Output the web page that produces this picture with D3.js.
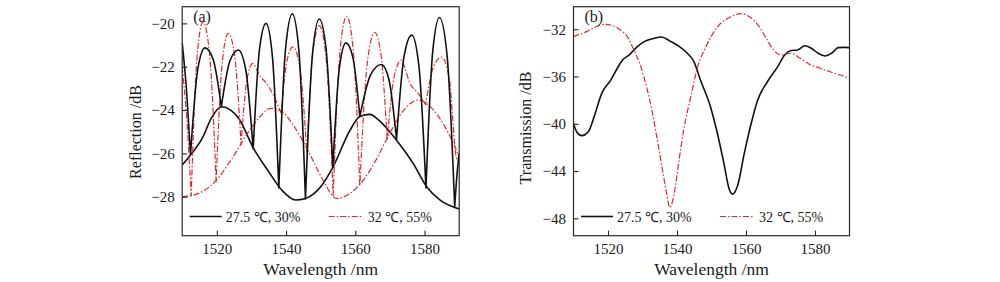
<!DOCTYPE html>
<html>
<head>
<meta charset="utf-8">
<script src="https://cdn.jsdelivr.net/npm/d3@7"></script>
<style>
  body { margin: 0; background: #fff; }
  svg { display: block; font-family: "Liberation Serif", "Times New Roman", serif; }
</style>
</head>
<body>
<div id="chart"></div>
<script>
// ---- data ----
const wavelengthTicks = [1520, 1540, 1560, 1580];
const reflTicks = [-28, -26, -24, -22, -20];
const transTicks = [-48, -44, -40, -36, -32];
const legendLabels = ["27.5 \u2103, 30%", "32 \u2103, 55%"];

// (a) reflection, 27.5 C / 30% : fringes and their lower envelope
const reflBlackFringe = [
  [1510, -20.9], [1511.3, -23.2], [1512.4, -26.05],
  [1514.5, -22.11], [1516.6, -21.13], [1518.95, -21.67], [1521.3, -23.85],
  [1523.75, -21.75], [1526.2, -21.23], [1528.35, -22.14], [1530.5, -25.8],
  [1532.35, -21.16], [1534.2, -20.0], [1536.05, -21.52], [1537.9, -27.6],
  [1539.85, -21.17], [1541.8, -19.56], [1543.7, -21.27], [1545.6, -28.1],
  [1547.6, -21.46], [1549.6, -19.8], [1551.55, -21.17], [1553.5, -26.65],
  [1555.4, -22.05], [1557.3, -20.9], [1559.3, -21.58], [1561.3, -24.3],
  [1564.4, -22.38], [1567.5, -21.9], [1569.7, -22.59], [1571.9, -25.35],
  [1574.1, -21.5], [1576.3, -20.54], [1578.35, -21.95], [1580.4, -27.6],
  [1582.35, -21.3], [1584.3, -19.73], [1586.5, -21.48], [1588.7, -28.46],
  [1589.35, -27.0], [1590, -26.0]
];
const reflBlackEnvelope = [
  [1510, -26.54], [1512.4, -26.08], [1515.8, -25.3], [1518.5, -24.35], [1521.3, -23.85],
  [1524, -24.0], [1526.3, -24.38], [1530.6, -25.77], [1535, -26.85], [1538.8, -27.7],
  [1542.7, -28.15], [1545.6, -28.08], [1550.4, -27.46], [1553.5, -26.65], [1558.5, -24.92],
  [1561.3, -24.3], [1564.2, -24.2], [1567, -24.5], [1571.9, -25.39], [1576.7, -26.46],
  [1580.6, -27.54], [1584.4, -28.15], [1590, -28.57]
];

// (a) reflection, 32 C / 55%
const reflRedFringe = [
  [1510, -22.0], [1511.4, -24.6], [1512.6, -27.95],
  [1514.3, -21.53], [1516.0, -19.93], [1517.9, -21.4], [1519.8, -27.3],
  [1521.55, -21.83], [1523.3, -20.46], [1525.15, -21.49], [1527.0, -25.6],
  [1528.7, -22.6], [1530.4, -21.85], [1532.3, -22.4], [1534.5, -22.8], [1536.6, -23.4], [1538.6, -24.15],
  [1540.3, -21.69], [1542.0, -21.08], [1544.0, -22.06], [1546.0, -26.0],
  [1547.8, -21.28], [1549.6, -20.1], [1551.6, -21.67], [1553.6, -27.95],
  [1555.55, -21.33], [1557.5, -19.67], [1559.4, -21.24], [1561.3, -27.5],
  [1563.45, -21.84], [1565.6, -20.42], [1567.4, -21.42], [1569.2, -25.4],
  [1571.25, -22.44], [1573.3, -21.7], [1574.4, -22.1], [1575.6, -22.7], [1578, -23.2], [1580.3, -23.75],
  [1582.6, -22.0], [1584.9, -21.56], [1587.1, -22.5], [1589.2, -26.2], [1590, -26.4]
];
const reflRedEnvelope = [
  [1510, -28.0], [1512.6, -27.95], [1516, -27.75], [1519.8, -27.25], [1524.4, -26.23],
  [1529.2, -25.0], [1532.1, -24.38], [1535.5, -23.92], [1538.8, -24.08], [1542.7, -24.85],
  [1546.5, -25.92], [1550.4, -27.15], [1554.6, -28.08], [1558, -27.9], [1562, -27.3],
  [1566, -26.3], [1570, -25.05], [1574, -24.0], [1578.2, -23.54], [1582, -23.9],
  [1586, -24.8], [1590, -26.15]
];

// (b) transmission
const transBlack = [
  [1510, -39.97], [1510.9, -40.67], [1512.4, -41.0], [1514.3, -40.67], [1516.3, -39.1],
  [1518.2, -37.4], [1520.8, -36.3], [1522.7, -35.3], [1524.2, -34.6], [1526.1, -34.18],
  [1528.5, -33.47], [1530.5, -33.05], [1533.4, -32.76], [1535.5, -32.65], [1538, -33.0],
  [1540, -33.33], [1543, -34.03], [1544.9, -34.74], [1546.8, -36.3], [1549.7, -38.55],
  [1551.7, -40.8], [1553.6, -43.35], [1555.1, -45.5], [1556.1, -45.95], [1557.6, -45.2],
  [1559.5, -42.5], [1561.5, -39.97], [1563.4, -37.99], [1566.3, -36.4], [1569.2, -35.16],
  [1571.2, -34.18], [1573.1, -33.8], [1575, -33.75], [1577, -33.4], [1578.9, -33.6],
  [1580.9, -34.03], [1583, -34.26], [1584.8, -34.03], [1586.7, -33.55], [1588.7, -33.53],
  [1590, -33.55]
];
const transRed = [
  [1510, -32.62], [1513.8, -32.2], [1516.7, -31.77], [1518.8, -31.58], [1521.7, -31.72],
  [1523.6, -32.06], [1525.6, -32.62], [1527.5, -33.75], [1529.5, -35.16], [1531.4, -37.14],
  [1532.9, -39.12], [1534.3, -41.38], [1535.8, -43.92], [1537.0, -45.9], [1537.9, -47.08],
  [1539.2, -45.9], [1540.6, -43.07], [1542.1, -40.25], [1544.0, -37.7], [1546.0, -35.16],
  [1548.4, -33.47], [1551.8, -31.77], [1555.7, -30.93], [1558.5, -30.68], [1561, -30.95],
  [1563.1, -31.5], [1565.6, -32.62], [1568, -33.75], [1570, -34.18], [1573, -34.03],
  [1575.7, -34.46], [1578.6, -35.0], [1581.5, -35.3], [1584.4, -35.6], [1587.3, -35.87],
  [1590, -36.15]
];

// ---- drawing ----
const BLACK = "#111", RED = "#e0282e", DASH = "6,2,1.5,2";
const plotTop = 6.7, plotBottom = 235.7;

const svg = d3.select("#chart").append("svg")
  .attr("width", 1000)
  .attr("height", 282);

// split a fringe trace at its local minima so the dips stay sharp
function splitAtDips(pts) {
  const segs = [];
  let cur = [pts[0]];
  for (let i = 1; i < pts.length; i++) {
    cur.push(pts[i]);
    if (i < pts.length - 1 && pts[i][1] < pts[i - 1][1] && pts[i][1] < pts[i + 1][1]) {
      segs.push(cur);
      cur = [pts[i]];
    }
  }
  segs.push(cur);
  return segs;
}

function drawPanel(p) {
  const x = d3.scaleLinear().domain([1510, 1590]).range([p.left, p.right]);
  const y = d3.scaleLinear().domain(p.yDomain).range([plotBottom, plotTop]);
  const g = svg.append("g");

  const clipId = "clip-" + p.id;
  svg.append("clipPath").attr("id", clipId)
    .append("rect")
    .attr("x", p.left).attr("y", plotTop)
    .attr("width", p.right - p.left).attr("height", plotBottom - plotTop);

  const line = d3.line()
    .x(d => x(d[0]))
    .y(d => y(d[1]))
    .curve(d3.curveMonotoneX);

  function pathFor(pts, sharp) {
    if (!sharp) return line(pts);
    return splitAtDips(pts)
      .map((s, i) => i ? "L" + line(s).slice(1) : line(s))
      .join("");
  }

  const lines = g.append("g").attr("clip-path", "url(#" + clipId + ")");
  p.series.forEach(s => {
    lines.append("path")
      .attr("d", pathFor(s.data, s.sharp))
      .attr("fill", "none")
      .attr("stroke", s.red ? RED : BLACK)
      .attr("stroke-width", s.red ? 1.2 : 1.6)
      .attr("stroke-dasharray", s.red ? DASH : null)
      .attr("stroke-linejoin", "round");
  });

  // axes, ticks pointing inwards
  const xAxis = g.append("g")
    .attr("transform", "translate(0," + plotBottom + ")")
    .call(d3.axisBottom(x).tickValues(wavelengthTicks).tickFormat(d3.format("d"))
      .tickSizeInner(-5).tickSizeOuter(0).tickPadding(7.5));
  const yAxis = g.append("g")
    .attr("transform", "translate(" + p.left + ",0)")
    .call(d3.axisLeft(y).tickValues(p.yTicks).tickFormat(d3.format("d"))
      .tickSizeInner(-5).tickSizeOuter(0).tickPadding(7.5));
  [xAxis, yAxis].forEach(a => {
    a.attr("font-family", null);
    a.select(".domain").remove();
    a.selectAll("line").attr("stroke", "#222").attr("stroke-width", 1.1);
    a.selectAll("text")
      .style("font-family", "'Liberation Serif', serif")
      .style("font-size", "15px")
      .attr("fill", "#1a1a1a");
  });

  g.append("rect")
    .attr("x", p.left).attr("y", plotTop)
    .attr("width", p.right - p.left).attr("height", plotBottom - plotTop)
    .attr("fill", "none")
    .attr("stroke", "#2a2a2a")
    .attr("stroke-width", 1.2);

  // titles
  g.append("text")
    .attr("x", (p.left + p.right) / 2)
    .attr("y", 275)
    .attr("text-anchor", "middle")
    .style("font-size", "17.5px")
    .attr("fill", "#1a1a1a")
    .text("Wavelength /nm");

  g.append("text")
    .attr("transform", "translate(" + p.yLabelX + "," + p.yLabelY + ") rotate(-90)")
    .attr("text-anchor", "middle")
    .attr("dy", "0.35em")
    .style("font-size", "16px")
    .attr("fill", "#1a1a1a")
    .text(p.yLabel);

  g.append("text")
    .attr("x", p.left + 11)
    .attr("y", 22)
    .style("font-size", "16px")
    .attr("fill", "#1a1a1a")
    .text(p.tag);

  // legend
  const ly = 216.5;
  const items = [
    { x0: 7.5, x1: 39.5, tx: 43.5, red: false, label: legendLabels[0] },
    { x0: 146.5, x1: 181, tx: 185.5, red: true, label: legendLabels[1] }
  ];
  items.forEach(it => {
    g.append("line")
      .attr("x1", p.left + it.x0).attr("x2", p.left + it.x1)
      .attr("y1", ly).attr("y2", ly)
      .attr("stroke", it.red ? RED : BLACK)
      .attr("stroke-width", it.red ? 1.2 : 1.6)
      .attr("stroke-dasharray", it.red ? DASH : null);
    g.append("text")
      .attr("x", p.left + it.tx)
      .attr("y", ly + 5)
      .style("font-size", "14px")
      .attr("fill", "#1a1a1a")
      .text(it.label);
  });
}

drawPanel({
  id: "a", tag: "(a)",
  left: 182.2, right: 459.2,
  yDomain: [-29.8, -19.23],
  yTicks: reflTicks,
  yLabel: "Reflection /dB",
  yLabelX: 135, yLabelY: 132,
  series: [
    { data: reflBlackEnvelope, red: false },
    { data: reflRedEnvelope, red: true },
    { data: reflRedFringe, red: true, sharp: true },
    { data: reflBlackFringe, red: false, sharp: true }
  ]
});

drawPanel({
  id: "b", tag: "(b)",
  left: 573.5, right: 849.5,
  yDomain: [-49.47, -30.09],
  yTicks: transTicks,
  yLabel: "Transmission /dB",
  yLabelX: 525, yLabelY: 128,
  series: [
    { data: transBlack, red: false },
    { data: transRed, red: true }
  ]
});
</script>
</body>
</html>
